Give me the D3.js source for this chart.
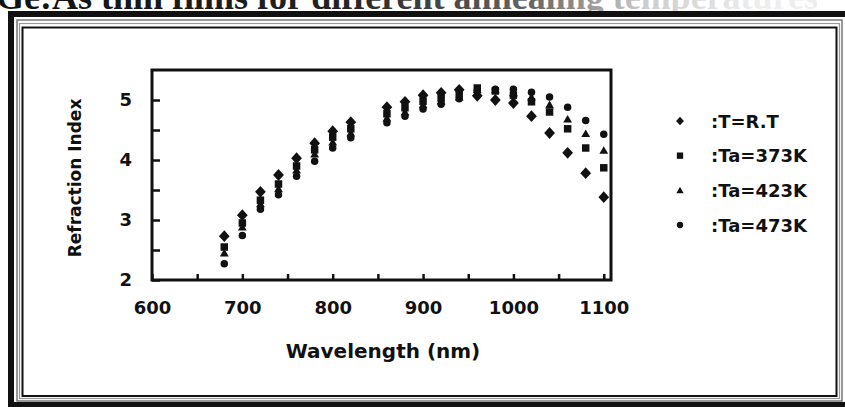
<!DOCTYPE html>
<html>
<head>
<meta charset="utf-8">
<script src="https://cdn.jsdelivr.net/npm/d3@7"></script>
<style>
  html, body { margin: 0; padding: 0; background: #fff; }
  svg { display: block; }
  .ax text { font-family: "DejaVu Sans", sans-serif; font-weight: bold; font-size: 18px; fill: #111; }
</style>
</head>
<body>
<svg id="chart" width="845" height="407"></svg>
<script>
// ---- data ----
const wavelengths = [680, 700, 720, 740, 760, 780, 800, 820, 860, 880, 900, 920, 940, 960, 980, 1000, 1020, 1040, 1060, 1080, 1100];
const nRT   = [2.73, 3.08, 3.47, 3.75, 4.03, 4.28, 4.48, 4.63, 4.88, 4.97, 5.08, 5.12, 5.17, 5.07, 5.00, 4.95, 4.73, 4.45, 4.12, 3.78, 3.38];
const n373K = [2.55, 2.95, 3.33, 3.60, 3.90, 4.17, 4.38, 4.52, 4.77, 4.87, 4.98, 5.03, 5.10, 5.20, 5.15, 5.08, 4.97, 4.80, 4.52, 4.20, 3.87];
const n423K = [2.45, 2.88, 3.27, 3.52, 3.83, 4.10, 4.30, 4.45, 4.70, 4.80, 4.92, 4.98, 5.05, 5.17, 5.17, 5.12, 5.05, 4.92, 4.68, 4.44, 4.16];
const n473K = [2.27, 2.74, 3.18, 3.42, 3.73, 3.98, 4.20, 4.37, 4.62, 4.73, 4.85, 4.93, 5.02, 5.15, 5.18, 5.18, 5.13, 5.05, 4.88, 4.66, 4.43];
const seriesNames = [":T=R.T", ":Ta=373K", ":Ta=423K", ":Ta=473K"];
const xTicks = [600, 650, 700, 750, 800, 850, 900, 950, 1000, 1050, 1100];
const yTicks = [2, 2.5, 3, 3.5, 4, 4.5, 5];
const xTitle = "Wavelength (nm)";
const yTitle = "Refraction Index";
const title = "Ge:As thin films for different annealing temperatures";

// ---- marker shapes ----
const diamondRT = { draw(c, s) { const r = Math.sqrt(s) / 2; c.moveTo(0, -r * 1.1); c.lineTo(r, 0); c.lineTo(0, r * 1.1); c.lineTo(-r, 0); c.closePath(); } };
const squareM  = { draw(c, s) { const r = Math.sqrt(s) / 2; c.rect(-r, -r, 2 * r, 2 * r); } };
const triM     = { draw(c, s) { const r = Math.sqrt(s) / 2; c.moveTo(0, -r * 1.05); c.lineTo(r * 1.1, r * 0.85); c.lineTo(-r * 1.1, r * 0.85); c.closePath(); } };
const circM    = { draw(c, s) { const r = Math.sqrt(s) / 2; c.moveTo(r, 0); c.arc(0, 0, r, 0, 2 * Math.PI); } };

const series = [
  { name: seriesNames[0], values: nRT,   type: diamondRT, size: 115, lsize: 60 },
  { name: seriesNames[1], values: n373K, type: squareM,   size: 56,  lsize: 40 },
  { name: seriesNames[2], values: n423K, type: triM,      size: 64,  lsize: 44 },
  { name: seriesNames[3], values: n473K, type: circM,     size: 56,  lsize: 40 }
];

const svg = d3.select("#chart");

// ---- title (partly cut off at the top, as in the scanned original) ----
const defs = svg.append("defs");
const grad = defs.append("linearGradient").attr("id", "tg").attr("gradientUnits", "userSpaceOnUse")
  .attr("x1", 0).attr("x2", 760).attr("y1", 0).attr("y2", 0);
grad.append("stop").attr("offset", "0").attr("stop-color", "#111");
grad.append("stop").attr("offset", "0.45").attr("stop-color", "#222");
grad.append("stop").attr("offset", "0.7").attr("stop-color", "#666");
grad.append("stop").attr("offset", "0.85").attr("stop-color", "#ccc");
grad.append("stop").attr("offset", "1").attr("stop-color", "#eee");
svg.append("text").attr("x", -4).attr("y", 9)
  .attr("font-family", "'Liberation Serif', serif").attr("font-weight", "bold").attr("font-size", 36)
  .attr("fill", "url(#tg)").text(title);

// ---- outer frame ----
svg.append("path").attr("d", "M11,410 L11,14 L850,14").attr("fill", "none").attr("stroke", "#111").attr("stroke-width", 6);
svg.append("line").attr("x1", 8).attr("x2", 850).attr("y1", 404.5).attr("y2", 404.5).attr("stroke", "#111").attr("stroke-width", 5);
svg.append("rect").attr("x", 17).attr("y", 20).attr("width", 825).attr("height", 381)
  .attr("fill", "none").attr("stroke", "#777").attr("stroke-width", 1.5);
svg.append("rect").attr("x", 19.5).attr("y", 23.5).attr("width", 820).attr("height", 375)
  .attr("fill", "none").attr("stroke", "#999").attr("stroke-width", 1.2);
svg.append("rect").attr("x", 22.5).attr("y", 27.5).attr("width", 814).attr("height", 368.5)
  .attr("fill", "#fff").attr("stroke", "#111").attr("stroke-width", 2);

// ---- scales ----
const x = d3.scaleLinear().domain([600, 1108]).range([152, 611]);
const y = d3.scaleLinear().domain([2, 5.5]).range([280, 70]);

// ---- axes ----
const xAxis = d3.axisBottom(x).tickValues(xTicks).tickSize(-6).tickPadding(21)
  .tickFormat(d => d % 100 === 0 ? d : "");
const gx = svg.append("g").attr("class", "ax").attr("transform", "translate(0,280)").call(xAxis);
const yAxis = d3.axisLeft(y).tickValues(yTicks).tickSize(-8).tickPadding(20)
  .tickFormat(d => Number.isInteger(d) ? d : "");
const gy = svg.append("g").attr("class", "ax").attr("transform", "translate(152,0)").call(yAxis);
[gx, gy].forEach(g => {
  g.select(".domain").remove();
  g.selectAll(".tick line").attr("stroke", "#111").attr("stroke-width", 2.5);
});

// plot frame
svg.append("rect").attr("x", x(600)).attr("y", y(5.5)).attr("width", x(1108) - x(600)).attr("height", y(2) - y(5.5))
  .attr("fill", "none").attr("stroke", "#111").attr("stroke-width", 3);

// axis titles
svg.append("text").attr("x", 383).attr("y", 351).attr("text-anchor", "middle").attr("dominant-baseline", "central")
  .attr("font-family", "'DejaVu Sans', sans-serif").attr("font-weight", "bold").attr("font-size", 20).attr("fill", "#111")
  .text(xTitle);
svg.append("text").attr("transform", "translate(75,178) rotate(-90)").attr("text-anchor", "middle").attr("dominant-baseline", "central")
  .attr("font-family", "'DejaVu Sans', sans-serif").attr("font-weight", "bold").attr("font-size", 17).attr("fill", "#111")
  .text(yTitle);

// ---- points ----
series.forEach(s => {
  svg.append("g").selectAll("path").data(wavelengths.map((w, i) => [w, s.values[i]])).join("path")
    .attr("transform", d => `translate(${x(d[0])},${y(d[1])})`)
    .attr("d", d3.symbol().type(s.type).size(s.size))
    .attr("fill", "#111");
});

// ---- legend ----
const legY = d3.scalePoint().domain(seriesNames).range([121, 225]);
const leg = svg.append("g");
series.forEach(s => {
  leg.append("path").attr("transform", `translate(680,${legY(s.name)})`)
    .attr("d", d3.symbol().type(s.type).size(s.lsize)).attr("fill", "#111");
  leg.append("text").attr("x", 711).attr("y", legY(s.name)).attr("dominant-baseline", "central")
    .attr("font-family", "'DejaVu Sans', sans-serif").attr("font-weight", "bold").attr("font-size", 18).attr("fill", "#111")
    .text(s.name);
});
</script>
</body>
</html>
